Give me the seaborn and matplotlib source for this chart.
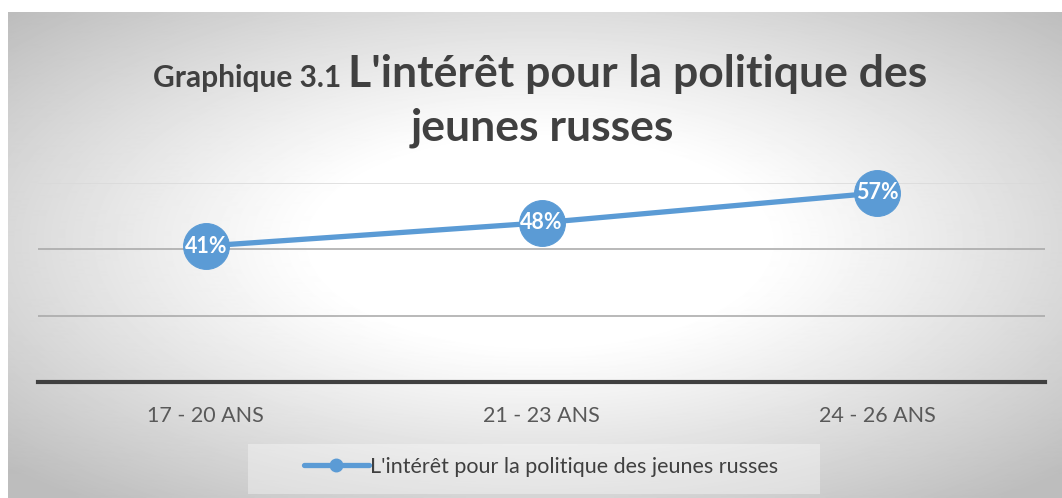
import matplotlib
matplotlib.use("Agg")
import matplotlib.pyplot as plt
import matplotlib.patches as mpatches
from matplotlib.lines import Line2D
import seaborn as sns
import numpy as np
import pandas as pd

# data
categories = ["17 - 20 ANS", "21 - 23 ANS", "24 - 26 ANS"]
values = [41, 48, 57]
series_name = "L'intérêt pour la politique des jeunes russes"
title_small = "Graphique 3.1"
title_big_1 = "L'intérêt pour la politique des"
title_big_2 = "jeunes russes"

sns.set_theme(style="white")
plt.rcParams['font.family'] = ['Lato', 'DejaVu Sans']

blue = "#5B9BD5"
W, H = 1062, 498
fig = plt.figure(figsize=(W / 100, H / 100), dpi=100)
fig.patch.set_facecolor("white")

# radial gradient background of the chart area
bg = fig.add_axes([8 / W, 0, 1 - 8 / W, 1 - 12 / H], zorder=0)
yy, xx = np.mgrid[0:486, 0:1054]
cx, cy = 532, 230
d = np.sqrt(((xx - cx) / 531.0) ** 2 + ((yy - cy) / 243.0) ** 2)
t = np.clip((d - 0.42) / 0.95, 0, 1)
shade = 1 - 0.26 * t ** 1.1
bg.imshow(shade, cmap="gray", vmin=0, vmax=1, aspect="auto",
          extent=[0, 1, 0, 1], interpolation="bilinear")
bg.set_axis_off()

ax = fig.add_axes([38 / W, 1 - 382 / H, (1045 - 38) / W, (382 - 183) / H], zorder=2)
ax.patch.set_alpha(0)

df = pd.DataFrame({"age": categories, "val": values})
sns.lineplot(data=df, x="age", y="val", ax=ax, color=blue, linewidth=3.8,
             marker="o", markersize=33, markeredgecolor=blue, sort=False,
             clip_on=False, zorder=5)

for i, v in enumerate(values):
    ax.text(i, v, f"{v}%", ha="center", va="center", color="white",
            fontsize=15.5, fontweight="bold", zorder=6)

ax.set_xlim(-0.5, len(categories) - 0.5)
ax.set_ylim(0, 60)
ax.set_yticks([20, 40])
ax.set_yticklabels([])
ax.yaxis.grid(True, color="#a6a6a6", linewidth=1.1)
ax.axhline(60, color="#d9d9d9", linewidth=1.1, zorder=1)
ax.tick_params(axis="y", length=0)
ax.tick_params(axis="x", length=0, pad=17, labelsize=15.5, labelcolor="#595959")
ax.set_xlabel("")
ax.set_ylabel("")
for s in ["top", "left", "right"]:
    ax.spines[s].set_visible(False)
ax.spines["bottom"].set_color("#404040")
ax.spines["bottom"].set_linewidth(3)

# legend box
fig.patches.append(mpatches.Rectangle((248 / W, 1 - 494 / H), (820 - 248) / W, 50 / H,
                                      transform=fig.transFigure, facecolor="white",
                                      alpha=0.35, edgecolor="none", zorder=1))
handle = Line2D([0], [0], color=blue, linewidth=3.8, marker="o", markersize=9)
fig.legend([handle], [series_name], loc="center", bbox_to_anchor=(541 / W, 1 - 467 / H),
           frameon=False, fontsize=15.5, labelcolor="#404040", handlelength=3.0,
           handletextpad=0.05)

# title with two sizes
tc = "#404040"
t_small = fig.text(0, 0, title_small + " ", fontsize=21.5, fontweight="bold", color=tc)
t_big = fig.text(0, 0, title_big_1, fontsize=32, fontweight="bold", color=tc)
fig.canvas.draw()
r = fig.canvas.get_renderer()
ws = t_small.get_window_extent(r).width
wb = t_big.get_window_extent(r).width
x0 = 540 - (ws + wb) / 2
base1 = 1 - 87 / H
t_small.set_position((x0 / W, base1))
t_small.set_va("baseline")
t_big.set_position(((x0 + ws) / W, base1))
t_big.set_va("baseline")
fig.text(542 / W, 1 - 140 / H, title_big_2, fontsize=32, fontweight="bold",
         color=tc, ha="center", va="baseline")

fig.savefig("out.png", dpi=100)
